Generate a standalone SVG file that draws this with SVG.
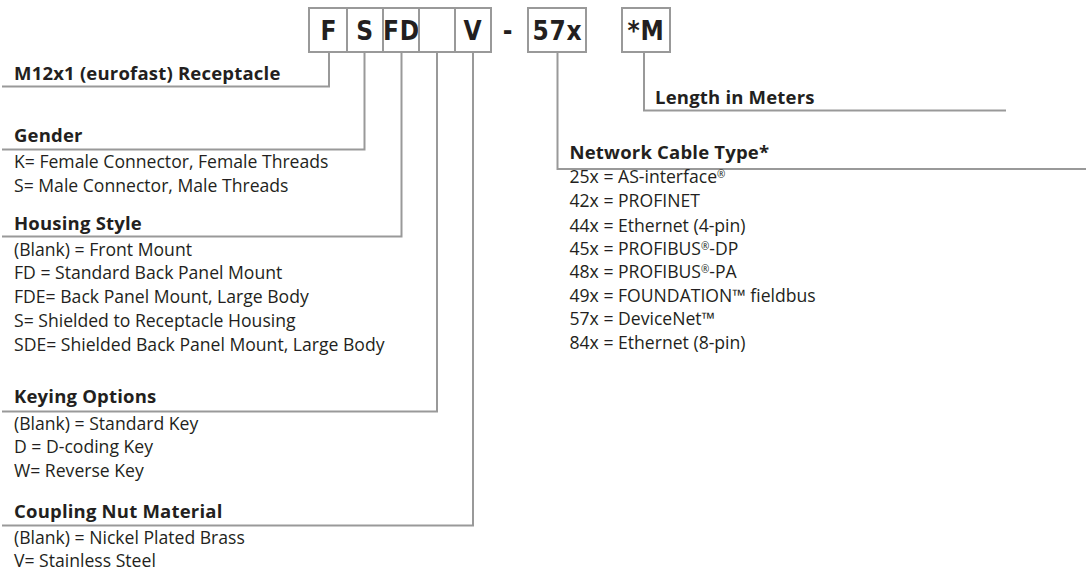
<svg xmlns="http://www.w3.org/2000/svg" width="1086" height="571" viewBox="0 0 1086 571">
<style>
.box{fill:#fff;stroke:#999;stroke-width:2}
.code{font-family:"Liberation Sans Narrow","DejaVu Sans Condensed","Roboto Condensed","Liberation Sans",sans-serif;font-weight:700;font-size:26px;fill:#231f20;text-anchor:middle;letter-spacing:0.8px}
.h{font-family:"Open Sans","Liberation Sans",sans-serif;font-weight:700;font-size:18.5px;fill:#231f20;letter-spacing:0.2px}
.t{font-family:"Open Sans","Liberation Sans",sans-serif;font-size:17.6px;fill:#231f20}
.sup{font-size:10px;baseline-shift:5px}
.c{fill:none;stroke:#999;stroke-width:2}
</style>
<rect width="1086" height="571" fill="#fff"/>
<g id="connectors">
<path class="c" d="M329,52 V86.5 H2"/>
<path class="c" d="M364.5,52 V149.5 H2"/>
<path class="c" d="M401.5,52 V236.5 H2"/>
<path class="c" d="M437,52 V411.5 H2"/>
<path class="c" d="M473,52 V525.5 H2"/>
<path class="c" d="M557.5,52 V169 H1086"/>
<path class="c" d="M644,52 V110.5 H1006"/>
</g>
<g id="box-F"><rect class="box" x="309" y="8" width="38" height="44"/><text class="code" x="329" y="40">F</text></g>
<g id="box-S"><rect class="box" x="347" y="8" width="36" height="44"/><text class="code" x="365" y="40">S</text></g>
<g id="box-FD"><rect class="box" x="383" y="8" width="36" height="44"/><text class="code" x="401.5" y="40">FD</text></g>
<g id="box-blank"><rect class="box" x="419" y="8" width="36" height="44"/></g>
<g id="box-V"><rect class="box" x="455" y="8" width="36" height="44"/><text class="code" x="473" y="40">V</text></g>
<g id="dash"><text class="code" x="508" y="40">-</text></g>
<g id="box-57x"><rect class="box" x="528" y="8" width="58" height="44"/><text class="code" x="557.5" y="40">57x</text></g>
<g id="box-M"><rect class="box" x="622" y="8" width="48" height="44"/><text class="code" x="646" y="40">*M</text></g>
<g id="label-receptacle"><text class="h" x="14" y="80">M12x1 (eurofast) Receptacle</text></g>
<g id="label-gender">
<text class="h" x="14" y="141.7">Gender</text>
<text class="t" x="14" y="168">K= Female Connector, Female Threads</text>
<text class="t" x="14" y="191.7">S= Male Connector, Male Threads</text>
</g>
<g id="label-housing">
<text class="h" x="14" y="230">Housing Style</text>
<text class="t" x="14" y="256">(Blank) = Front Mount</text>
<text class="t" x="14" y="279.3">FD = Standard Back Panel Mount</text>
<text class="t" x="14" y="302.7">FDE= Back Panel Mount, Large Body</text>
<text class="t" x="14" y="326.7">S= Shielded to Receptacle Housing</text>
<text class="t" x="14" y="350.5">SDE= Shielded Back Panel Mount, Large Body</text>
</g>
<g id="label-keying">
<text class="h" x="14" y="403.3">Keying Options</text>
<text class="t" x="14" y="430">(Blank) = Standard Key</text>
<text class="t" x="14" y="453.3">D = D-coding Key</text>
<text class="t" x="14" y="477.3">W= Reverse Key</text>
</g>
<g id="label-coupling">
<text class="h" x="14" y="518.3">Coupling Nut Material</text>
<text class="t" x="14" y="544">(Blank) = Nickel Plated Brass</text>
<text class="t" x="14" y="566.7">V= Stainless Steel</text>
</g>
<g id="label-length"><text class="h" x="655" y="103.5">Length in Meters</text></g>
<g id="label-network">
<text class="h" x="569.5" y="158.6">Network Cable Type*</text>
<text class="t" x="569.5" y="183.3">25x = AS-interface<tspan class="sup">®</tspan></text>
<text class="t" x="569.5" y="207.3">42x = PROFINET</text>
<text class="t" x="569.5" y="231.7">44x = Ethernet (4-pin)</text>
<text class="t" x="569.5" y="255">45x = PROFIBUS<tspan class="sup">®</tspan>-DP</text>
<text class="t" x="569.5" y="278.3">48x = PROFIBUS<tspan class="sup">®</tspan>-PA</text>
<text class="t" x="569.5" y="301.7">49x = FOUNDATION™ fieldbus</text>
<text class="t" x="569.5" y="325">57x = DeviceNet™</text>
<text class="t" x="569.5" y="348.5">84x = Ethernet (8-pin)</text>
</g>
</svg>
